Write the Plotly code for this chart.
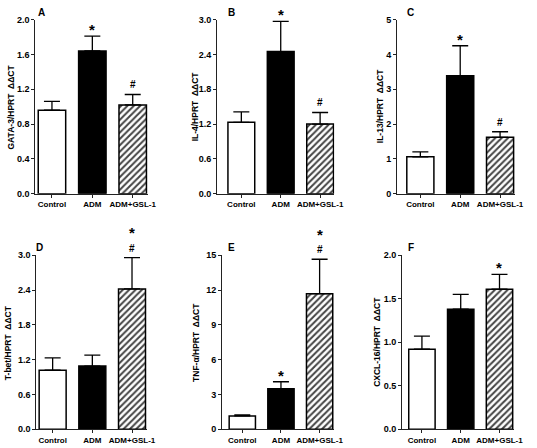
import plotly.graph_objects as go

W, H = 537, 448

categories = ["Control", "ADM", "ADM+GSL-1"]

gata3_mean = [0.96, 1.64, 1.02]
gata3_err = [0.10, 0.17, 0.12]
il4_mean = [1.23, 2.45, 1.20]
il4_err = [0.18, 0.52, 0.20]
il13_mean = [1.06, 3.39, 1.62]
il13_err = [0.14, 0.86, 0.16]
tbet_mean = [1.02, 1.09, 2.42]
tbet_err = [0.21, 0.19, 0.54]
tnfa_mean = [1.15, 3.50, 11.69]
tnfa_err = [0.10, 0.60, 2.97]
cxcl16_mean = [0.92, 1.38, 1.61]
cxcl16_err = [0.15, 0.17, 0.17]

y_titles = ["GATA-3/HPRT  ΔΔCT", "IL-4/HPRT  ΔΔCT", "IL-13/HPRT  ΔΔCT",
            "T-bet/HPRT  ΔΔCT", "TNF-α/HPRT  ΔΔCT", "CXCL-16/HPRT  ΔΔCT"]
panel_letters = ["A", "B", "C", "D", "E", "F"]
y_max = [2.0, 3.0, 5.0, 3.0, 15.0, 2.0]
y_dtick = [0.4, 0.6, 1, 0.6, 3, 0.5]
y_fmt = [".1f", ".1f", "d", ".1f", "d", ".1f"]
marks = [["", "*", "#"], ["", "*", "#"], ["", "*", "#"],
         ["", "", "*|#"], ["", "*", "*|#"], ["", "", "*"]]

means = [gata3_mean, il4_mean, il13_mean, tbet_mean, tnfa_mean, cxcl16_mean]
errs = [gata3_err, il4_err, il13_err, tbet_err, tnfa_err, cxcl16_err]

# layout geometry (pixels)
px_x = [(36, 151), (221, 340), (404, 524), (37, 150), (226, 340), (409, 523)]
px_y = [(15, 193), (15, 193), (15, 193), (256, 434), (256, 434), (256, 434)]
x_ranges = [(-0.41, 2.39), (-0.61, 2.36), (-0.58, 2.38),
            (-0.41, 2.39), (-0.52, 2.38), (-0.51, 2.38)]
title_x = [11, 198, 386, 8, 200, 384]
letter_pos = [(42, 8), (235, 8), (418, 8), (40, 248), (235, 248), (418, 248)]
stack_gap = [14, 14, 14, 19, 18, 14]

FONT = "Liberation Sans, Arial, sans-serif"
fills = ["white", "black", "white"]
patterns = ["", "", "/"]

fig = go.Figure()
annotations = []
for i in range(6):
    n = "" if i == 0 else str(i + 1)
    fig.add_trace(go.Bar(
        x=[0, 1, 2], y=means[i],
        width=0.68,
        marker=dict(color=fills, line=dict(color="black", width=1.5),
                    pattern=dict(shape=patterns, fgcolor="black", bgcolor="white",
                                 fgopacity=1, size=4.5, solidity=0.45)),
        error_y=dict(type="data", array=errs[i], arrayminus=[0, 0, 0], symmetric=False,
                     color="black", thickness=1.3, width=8),
        xaxis="x" + n, yaxis="y" + n, showlegend=False,
    ))
    x0, x1 = px_x[i]
    yt, yb = px_y[i]
    fig.layout["xaxis" + n] = dict(
        domain=[x0 / W, x1 / W], range=list(x_ranges[i]), anchor="y" + n,
        tickvals=[0, 1, 2], ticktext=categories, showline=True, linecolor="#222",
        linewidth=1.3, ticks="outside", ticklen=3, tickcolor="#222", tickwidth=1.3,
        showgrid=False, zeroline=False, fixedrange=True,
        tickfont=dict(family=FONT, size=8, color="black", weight="bold"),
    )
    fig.layout["yaxis" + n] = dict(
        domain=[1 - yb / H, 1 - yt / H], range=[0, y_max[i]], anchor="x" + n,
        dtick=y_dtick[i], tick0=0, tickformat=y_fmt[i], showline=True, linecolor="#222",
        linewidth=1.3, ticks="outside", ticklen=3, tickcolor="#222", tickwidth=1.3,
        showgrid=False, zeroline=False, fixedrange=True,
        tickfont=dict(family=FONT, size=9, color="black", weight="bold"),
    )
    annotations.append(dict(
        text=y_titles[i], xref="paper", yref="paper", x=title_x[i] / W,
        y=1 - ((yt + yb) / 2) / H, textangle=-90, showarrow=False,
        xanchor="center", yanchor="middle",
        font=dict(family=FONT, size=8.5, color="black", weight="bold")))
    lx, ly = letter_pos[i]
    annotations.append(dict(
        text=panel_letters[i], xref="paper", yref="paper", x=lx / W, y=1 - ly / H,
        showarrow=False, xanchor="center", yanchor="middle",
        font=dict(family=FONT, size=10, color="black", weight="bold")))
    for j in range(3):
        m = marks[i][j]
        if not m:
            continue
        parts = m.split("|")
        top = means[i][j] + errs[i][j]
        for k, sym in enumerate(reversed(parts)):
            if sym == "#":
                shift = 2
            else:
                shift = -4 + (stack_gap[i] if k > 0 else 0)
            annotations.append(dict(
                text=sym, x=j, y=top, xref="x" + n, yref="y" + n, showarrow=False,
                yanchor="bottom", yshift=shift,
                font=dict(family=FONT, size=15 if sym == "*" else 10, color="black",
                          weight="bold")))

fig.update_layout(
    width=W, height=H, margin=dict(l=0, r=0, t=0, b=0),
    plot_bgcolor="white", paper_bgcolor="white", annotations=annotations,
)
fig.write_html("out.html", config={"displayModeBar": False},
               post_script="document.body.style.margin='0px';")
